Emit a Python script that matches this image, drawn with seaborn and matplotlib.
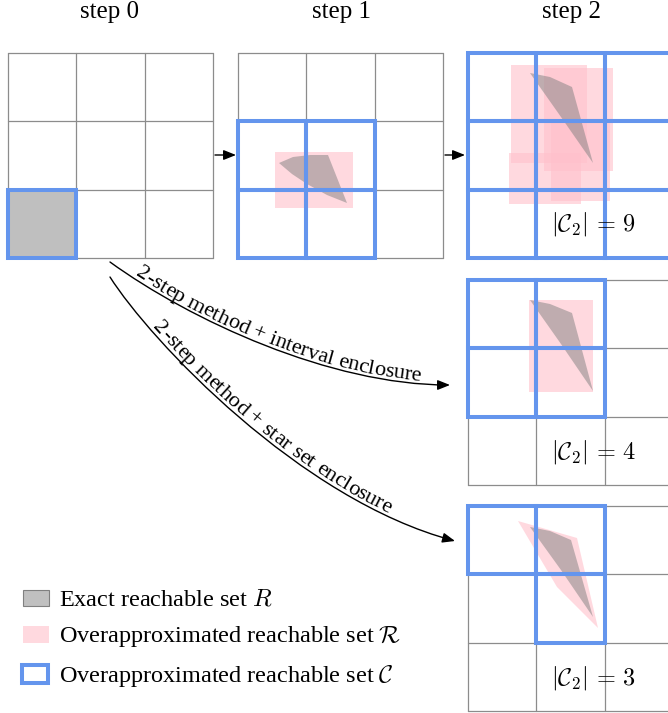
import numpy as np
import matplotlib
matplotlib.use('Agg')
import matplotlib.pyplot as plt
import seaborn as sns
from matplotlib.patches import Rectangle, Polygon, FancyArrowPatch
from matplotlib.path import Path
from matplotlib.textpath import TextToPath
from matplotlib.font_manager import FontProperties

sns.set_theme(style='white')
plt.rcParams['font.family'] = ['Liberation Serif', 'DejaVu Serif']
plt.rcParams['mathtext.fontset'] = 'cm'
plt.rcParams['text.color'] = 'black'

# Step titles above the top row of grids
step_titles = ['step 0', 'step 1', 'step 2']
title_x = [110, 341, 571]

# Grids (3x3 cells), top-left corners in pixels
cell = 68.4
grid_origins = [(8, 53), (238, 53), (468, 53), (468, 280), (468, 506)]

# Cells of the overapproximated set C for each grid (col, row)
blue_cells = [
    [(0, 2)],
    [(0, 1), (1, 1), (0, 2), (1, 2)],
    [(0, 0), (1, 0), (2, 0), (0, 1), (1, 1), (2, 1), (0, 2), (1, 2), (2, 2)],
    [(0, 0), (1, 0), (0, 1), (1, 1)],
    [(0, 0), (1, 0), (1, 1)],
]

# Exact reachable sets R (polygons)
exact_sets = [
    [(8, 190), (76, 190), (76, 258), (8, 258)],
    [(279, 163), (293, 157), (310, 155), (328, 155), (347, 203), (327, 195), (307, 184), (292, 174)],
    [(530, 73), (550, 77), (572, 87), (593, 163), (561, 117)],
    [(530, 300), (550, 304), (572, 313), (593, 391), (561, 344)],
    [(530, 527), (550, 531), (571, 540), (593, 617), (561, 570)],
]

# Interval enclosures (x0, y0, x1, y1)
interval_boxes = [
    (275, 152, 353, 208),
    (511, 65, 587, 163),
    (544, 68, 613, 171),
    (509, 153, 581, 204),
    (551, 123, 610, 201),
    (529, 300, 593, 392),
]

# Star set enclosure
star_set = [(518, 521), (577, 538), (598, 628), (557, 587)]

count_labels = [r'$|\mathcal{C}_2|\, =\, 9$', r'$|\mathcal{C}_2|\, =\, 4$', r'$|\mathcal{C}_2|\, =\, 3$']
count_pos = [(594, 230), (594, 458), (594, 685)]

# Curved arrows (cubic bezier control points) and their labels
curve_interval = [(110, 262), (190, 320), (330, 385), (450, 385)]
curve_star = [(110, 277), (150, 340), (300, 500), (455, 541)]
label_interval = '2-step method + interval enclosure'
label_star = '2-step method + star set enclosure'

legend_labels = ['Exact reachable set $R$',
                 r'Overapproximated reachable set $\mathcal{R}$',
                 r'Overapproximated reachable set $\mathcal{C}$']

blue = '#6495ED'
pink = '#FFC0CB'
grid_gray = '#8c8c8c'
fs = 17.5

fig = plt.figure(figsize=(6.68, 7.13), dpi=100)
ax = fig.add_axes([0, 0, 1, 1])
ax.set_xlim(0, 668)
ax.set_ylim(713, 0)
ax.axis('off')

# gray grids
for gx, gy in grid_origins:
    for k in range(4):
        ax.plot([gx + k * cell] * 2, [gy, gy + 3 * cell], color=grid_gray, lw=0.9, zorder=1)
        ax.plot([gx, gx + 3 * cell], [gy + k * cell] * 2, color=grid_gray, lw=0.9, zorder=1)

# interval enclosures
for x0, y0, x1, y1 in interval_boxes:
    ax.add_patch(Rectangle((x0, y0), x1 - x0, y1 - y0, facecolor=pink, alpha=0.6,
                           edgecolor='none', zorder=2))
ax.add_patch(Polygon(star_set, closed=True, facecolor=pink, alpha=0.6, edgecolor='none', zorder=2))

# exact sets
for poly in exact_sets:
    ax.add_patch(Polygon(poly, closed=True, facecolor='gray', alpha=0.5, edgecolor='none', zorder=3))

# blue cells
for (gx, gy), cells in zip(grid_origins, blue_cells):
    for c, r in cells:
        ax.add_patch(Rectangle((gx + c * cell, gy + r * cell), cell, cell, fill=False,
                               edgecolor=blue, lw=2.9, zorder=4))

for t, x in zip(step_titles, title_x):
    ax.text(x, 18, t, ha='center', va='baseline', fontsize=18)

for t, (x, y) in zip(count_labels, count_pos):
    ax.text(x, y, t, ha='center', va='baseline', fontsize=17.5, zorder=5)

# small straight arrows between steps
for x0, x1 in [(215, 236), (445, 465)]:
    ax.annotate('', xy=(x1, 155), xytext=(x0, 155),
                arrowprops=dict(arrowstyle='-|>,head_length=0.5,head_width=0.2', lw=1,
                                color='black', mutation_scale=15, shrinkA=0, shrinkB=0))


def bezier(P, n=600):
    P = np.asarray(P, float)
    t = np.linspace(0, 1, n)[:, None]
    return ((1 - t) ** 3 * P[0] + 3 * t * (1 - t) ** 2 * P[1]
            + 3 * t ** 2 * (1 - t) * P[2] + t ** 3 * P[3])


def curved_text(P, text, s0, offset, size):
    pts = bezier(P)
    d = np.diff(pts, axis=0)
    s = np.concatenate([[0], np.cumsum(np.hypot(d[:, 0], d[:, 1]))])
    prop = FontProperties(family='Liberation Serif', size=size)
    ttp = TextToPath()
    k = fig.dpi / 72
    w = [0] + [ttp.get_text_width_height_descent(text[:i], prop, ismath=False)[0] * k
               for i in range(1, len(text) + 1)]
    for i, ch in enumerate(text):
        if ch == ' ':
            continue
        sc = s0 + (w[i] + w[i + 1]) / 2
        x, y = np.interp(sc, s, pts[:, 0]), np.interp(sc, s, pts[:, 1])
        x2, y2 = np.interp(sc + 1, s, pts[:, 0]), np.interp(sc + 1, s, pts[:, 1])
        tx, ty = x2 - x, y2 - y
        n = np.hypot(tx, ty)
        tx, ty = tx / n, ty / n
        ang = np.degrees(np.arctan2(-ty, tx))
        ax.text(x + offset * ty, y - offset * tx, ch, rotation=ang, rotation_mode='anchor',
                ha='center', va='baseline', fontsize=size, zorder=5)


for P, lab, s0 in [(curve_interval, label_interval, 28), (curve_star, label_star, 66)]:
    path = Path(P, [Path.MOVETO, Path.CURVE4, Path.CURVE4, Path.CURVE4])
    ax.add_patch(FancyArrowPatch(path=path, arrowstyle='-|>,head_length=0.5,head_width=0.2',
                                 mutation_scale=15, lw=1, color='black', zorder=5))
    curved_text(P, lab, s0, 3, 16)

# legend
ax.add_patch(Rectangle((23, 590), 26, 16, facecolor='#c0c0c0', edgecolor='gray', lw=0.8))
ax.add_patch(Rectangle((23, 626), 26, 17, facecolor=pink, alpha=0.6, edgecolor='none'))
ax.add_patch(Rectangle((22, 665), 26, 18, facecolor='white', edgecolor=blue, lw=2.9))
for lab, y in zip(legend_labels, [606, 642, 682]):
    ax.text(59, y, lab, ha='left', va='baseline', fontsize=fs)

fig.savefig('out.png', dpi=100)
